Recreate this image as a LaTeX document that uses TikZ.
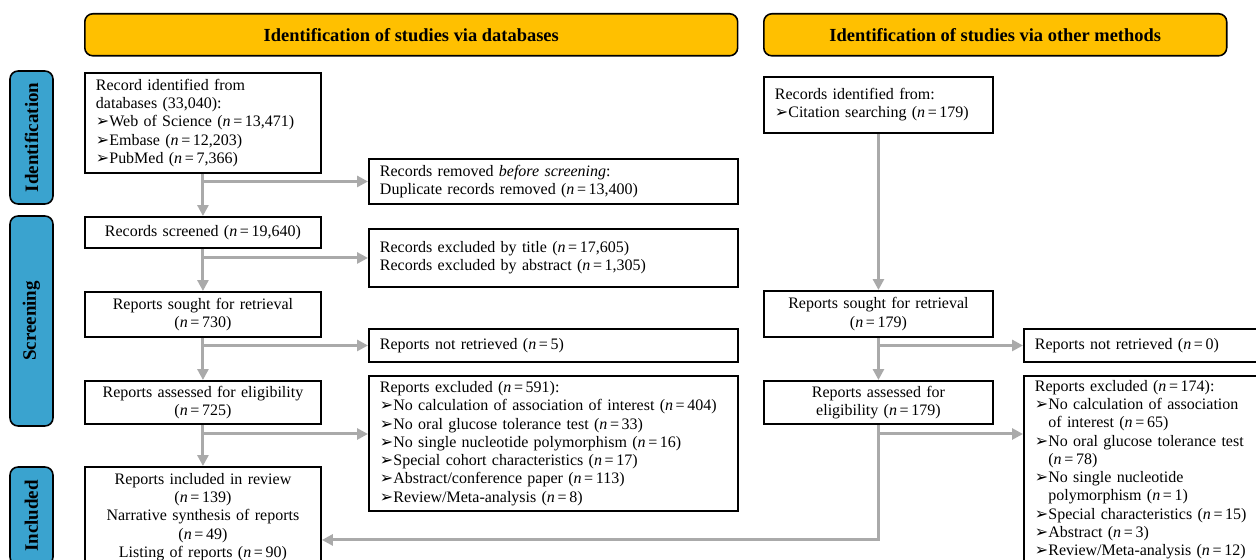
\documentclass[tikz,border=0pt]{standalone}
\usepackage{fontspec}
\setmainfont{Liberation Serif}
\usepackage{tikz}
\usetikzlibrary{arrows.meta}
\newfontfamily\symfont{DejaVu Sans}
\definecolor{hdrgold}{HTML}{FFC000}
\definecolor{sideblue}{HTML}{3AA3CF}
\definecolor{arrgrey}{HTML}{AAAAAA}
\newcommand\bul{{\symfont\char"27A2}}
\newcommand\nn{\textit{n}\,=\,}
\newcommand\boxfont{\fontsize{9.1}{10.4}\selectfont}

\begin{document}
\begin{tikzpicture}[x=0.02cm, y=-0.02cm,
        box/.style={draw=black, line width=1.1pt, fill=white, anchor=north west, inner xsep=0.22cm, inner ysep=1pt, font=\boxfont},
        header/.style={draw=black, line width=0.9pt, fill=hdrgold, rounded corners=0.16cm, anchor=north west, minimum height=0.84cm, font=\fontsize{10.5}{12}\selectfont\bfseries},
        side/.style={draw=black, line width=0.9pt, fill=sideblue, rounded corners=0.16cm, rotate=90, minimum height=0.86cm, font=\fontsize{10.8}{12}\selectfont\bfseries},
        arr/.style={draw=arrgrey, line width=1.7pt, -{Triangle[length=0.22cm, width=0.22cm]}}]
    \useasboundingbox (0,0) rectangle (1256,560);
    \clip (0,0) rectangle (1256,560);
    \node[header, minimum width=13.06cm] (hdb) at (84,13) {Identification of studies via databases};
    \node[header, minimum width=9.26cm] (hoth) at (763,13) {Identification of studies via other methods};
    \node[side, minimum width=2.66cm] (sid) at (31.5,137.5) {Identification};
    \node[side, minimum width=4.2cm] (sscr) at (31.5,321) {Screening};
    \node[side, minimum width=1.96cm] (sinc) at (31.5,516) {Included};

    \node[box, text width=4.28cm, minimum height=2cm, align=left] (ident) at (84,72)
        {Record identified from\\databases (33,040):\\\bul Web of Science (\nn 13,471)\\\bul Embase (\nn 12,203)\\\bul PubMed (\nn 7,366)};
    \node[box, text width=6.94cm, minimum height=0.9cm, align=left] (dup) at (368,158)
        {Records removed \textit{before screening}:\\Duplicate records removed (\nn 13,400)};
    \node[box, text width=4.28cm, minimum height=0.62cm, align=center] (scr) at (84,216)
        {Records screened (\nn 19,640)};
    \node[box, text width=6.94cm, minimum height=1.16cm, align=left] (exc) at (368,228)
        {Records excluded by title (\nn 17,605)\\Records excluded by abstract (\nn 1,305)};
    \node[box, text width=4.28cm, minimum height=0.9cm, align=center] (sought) at (84,291)
        {Reports sought for retrieval\\(\nn 730)};
    \node[box, text width=6.94cm, minimum height=0.66cm, align=left] (notret) at (368,328)
        {Reports not retrieved (\nn 5)};
    \node[box, text width=4.28cm, minimum height=0.86cm, align=center] (assess) at (84,380)
        {Reports assessed for eligibility\\(\nn 725)};
    \node[box, text width=6.94cm, minimum height=2.7cm, align=left] (excl) at (368,375)
        {Reports excluded (\nn 591):\\\bul No calculation of association of interest (\nn 404)\\\bul No oral glucose tolerance test (\nn 33)\\\bul No single nucleotide polymorphism (\nn 16)\\\bul Special cohort characteristics (\nn 17)\\\bul Abstract/conference paper (\nn 113)\\\bul Review/Meta-analysis (\nn 8)};
    \node[box, text width=4.28cm, minimum height=2cm, align=center] (incl) at (84,466)
        {Reports included in review\\(\nn 139)\\Narrative synthesis of reports\\(\nn 49)\\Listing of reports (\nn 90)};

    \node[box, text width=4.14cm, minimum height=1.12cm, align=left] (cite) at (763,76)
        {Records identified from:\\\bul Citation searching (\nn 179)};
    \node[box, text width=4.14cm, minimum height=0.92cm, align=center] (sought2) at (763,290)
        {Reports sought for retrieval\\(\nn 179)};
    \node[box, text width=4.3cm, minimum height=0.66cm, align=left] (notret2) at (1023,328)
        {Reports not retrieved (\nn 0)};
    \node[box, text width=4.14cm, minimum height=0.86cm, align=center] (assess2) at (763,380)
        {Reports assessed for\\eligibility (\nn 179)};
    \node[box, text width=4.3cm, minimum height=3.75cm, align=left] (excl2) at (1023,375)
        {Reports excluded (\nn 174):\\\bul No calculation of association\\\phantom{\bul}of interest (\nn 65)\\\bul No oral glucose tolerance test\\\phantom{\bul}(\nn 78)\\\bul No single nucleotide\\\phantom{\bul}polymorphism (\nn 1)\\\bul Special characteristics (\nn 15)\\\bul Abstract (\nn 3)\\\bul Review/Meta-analysis (\nn 12)};

    \coordinate (e1) at ([yshift=-1.18cm]excl.north west);
    \coordinate (e2) at ([yshift=-1.18cm]excl2.north west);
    \coordinate (e3) at ([yshift=-0.46cm]incl.east);
    \draw[arr] (ident) -- (scr);
    \draw[arr] (scr) -- (sought);
    \draw[arr] (sought) -- (assess);
    \draw[arr] (assess) -- (incl);
    \draw[arr] (ident.south |- dup.west) -- (dup.west);
    \draw[arr] (scr.south |- exc.west) -- (exc.west);
    \draw[arr] (sought.south |- notret.west) -- (notret.west);
    \draw[arr] (assess.south |- e1) -- (e1);
    \draw[arr] (cite) -- (sought2);
    \draw[arr] (sought2) -- (assess2);
    \draw[arr] (sought2.south |- notret2.west) -- (notret2.west);
    \draw[arr] (assess2.south |- e2) -- (e2);
    \draw[arr] (assess2.south) |- (e3);
\end{tikzpicture}
\end{document}
